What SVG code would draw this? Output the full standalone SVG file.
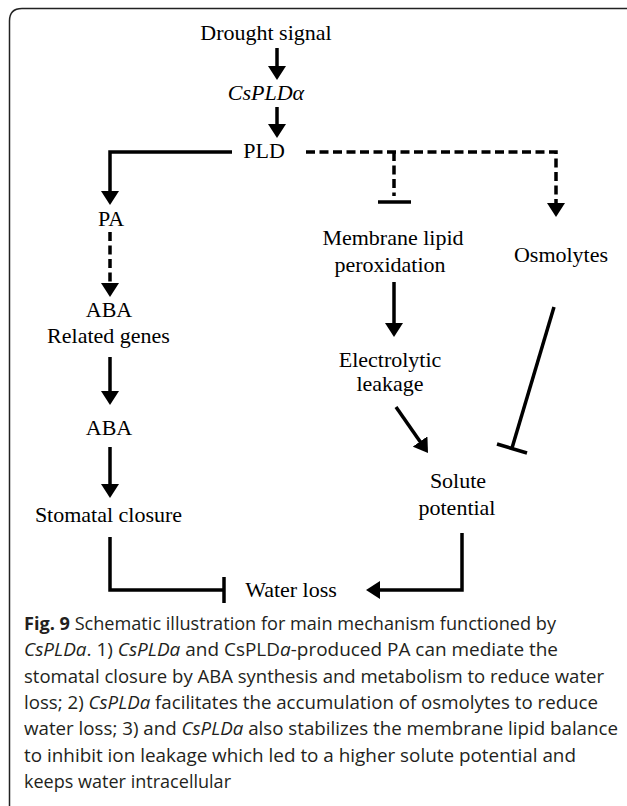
<svg xmlns="http://www.w3.org/2000/svg" width="627" height="806" viewBox="0 0 627 806">
<style>
.lbl{font-family:"Liberation Serif","Times New Roman",serif;font-size:22px;fill:#000;text-anchor:middle}
.it{font-style:italic}
.cap{font-family:"Open Sans","Noto Sans",sans-serif;font-size:18px;fill:#231f20}
.s{fill:none;stroke:#000;stroke-width:3.5}
.d{fill:none;stroke:#000;stroke-width:3.5;stroke-dasharray:9 4.5}
</style>
<defs>
<marker id="ah" viewBox="0 0 14 18" markerWidth="14" markerHeight="18" refX="4" refY="9" orient="auto" markerUnits="userSpaceOnUse">
<path d="M0,0 L14,9 L0,18 Z" fill="#000"/>
</marker>
</defs>
<rect width="627" height="806" fill="#fff"/>
<path d="M9.5,806 L9.5,21 Q9.5,8.5 22,8.5 L627,8.5" fill="none" stroke="#222" stroke-width="1.5"/>

<g id="drought"><text class="lbl" x="266" y="40">Drought signal</text></g>
<g id="cspld"><text class="lbl it" x="266" y="100">CsPLDα</text></g>
<g id="pld"><text class="lbl" x="264" y="158">PLD</text></g>
<g id="pa"><text class="lbl" x="111" y="226">PA</text></g>
<g id="aba-genes"><text class="lbl" x="109" y="317">ABA</text><text class="lbl" x="108.5" y="343">Related genes</text></g>
<g id="aba"><text class="lbl" x="109" y="435">ABA</text></g>
<g id="stomatal"><text class="lbl" x="108.5" y="522">Stomatal closure</text></g>
<g id="waterloss"><text class="lbl" x="291" y="597">Water loss</text></g>
<g id="membrane"><text class="lbl" x="393" y="245">Membrane lipid</text><text class="lbl" x="390" y="272">peroxidation</text></g>
<g id="osmolytes"><text class="lbl" x="561" y="262">Osmolytes</text></g>
<g id="electrolytic"><text class="lbl" x="390" y="367">Electrolytic</text><text class="lbl" x="390" y="391">leakage</text></g>
<g id="solute"><text class="lbl" x="458" y="488">Solute</text><text class="lbl" x="457" y="515">potential</text></g>

<g id="connectors">
<line class="s" x1="277" y1="48" x2="277" y2="70" marker-end="url(#ah)"/>
<line class="s" x1="277" y1="107" x2="277" y2="128" marker-end="url(#ah)"/>
<path class="s" d="M232,152 H110 V195" marker-end="url(#ah)"/>
<path class="d" d="M110,232 V287" marker-end="url(#ah)"/>
<path class="s" d="M110,357 V395" marker-end="url(#ah)"/>
<path class="s" d="M110,447 V488" marker-end="url(#ah)"/>
<path class="s" d="M110,537 V590 H224"/>
<line class="s" x1="224" y1="577" x2="224" y2="603"/>
<path class="s" d="M462,533 V590 H376" marker-end="url(#ah)"/>
<path class="d" d="M306,152 H556 V207" marker-end="url(#ah)"/>
<path class="d" d="M394,152 V196"/>
<line class="s" x1="378" y1="202" x2="411" y2="202"/>
<path class="s" d="M394,282 V327" marker-end="url(#ah)"/>
<line class="s" x1="396" y1="407" x2="422.3" y2="444.8" marker-end="url(#ah)"/>
<line class="s" x1="554" y1="307" x2="512" y2="448"/>
<line class="s" x1="497" y1="444" x2="527" y2="453"/>
</g>

<g id="caption" class="cap">
<text x="24" y="630" textLength="532" lengthAdjust="spacingAndGlyphs"><tspan font-weight="bold">Fig. 9</tspan> Schematic illustration for main mechanism functioned by</text>
<text x="24" y="656" textLength="534" lengthAdjust="spacingAndGlyphs"><tspan font-style="italic">CsPLDa</tspan>. 1) <tspan font-style="italic">CsPLDa</tspan> and CsPLD<tspan font-style="italic">a</tspan>-produced PA can mediate the</text>
<text x="24" y="683" textLength="580" lengthAdjust="spacingAndGlyphs">stomatal closure by ABA synthesis and metabolism to reduce water</text>
<text x="24" y="709" textLength="574" lengthAdjust="spacingAndGlyphs">loss; 2) <tspan font-style="italic">CsPLDa</tspan> facilitates the accumulation of osmolytes to reduce</text>
<text x="24" y="735" textLength="594" lengthAdjust="spacingAndGlyphs">water loss; 3) and <tspan font-style="italic">CsPLDa</tspan> also stabilizes the membrane lipid balance</text>
<text x="24" y="762" textLength="552" lengthAdjust="spacingAndGlyphs">to inhibit ion leakage which led to a higher solute potential and</text>
<text x="24" y="788" textLength="207" lengthAdjust="spacingAndGlyphs">keeps water intracellular</text>
</g>
</svg>
